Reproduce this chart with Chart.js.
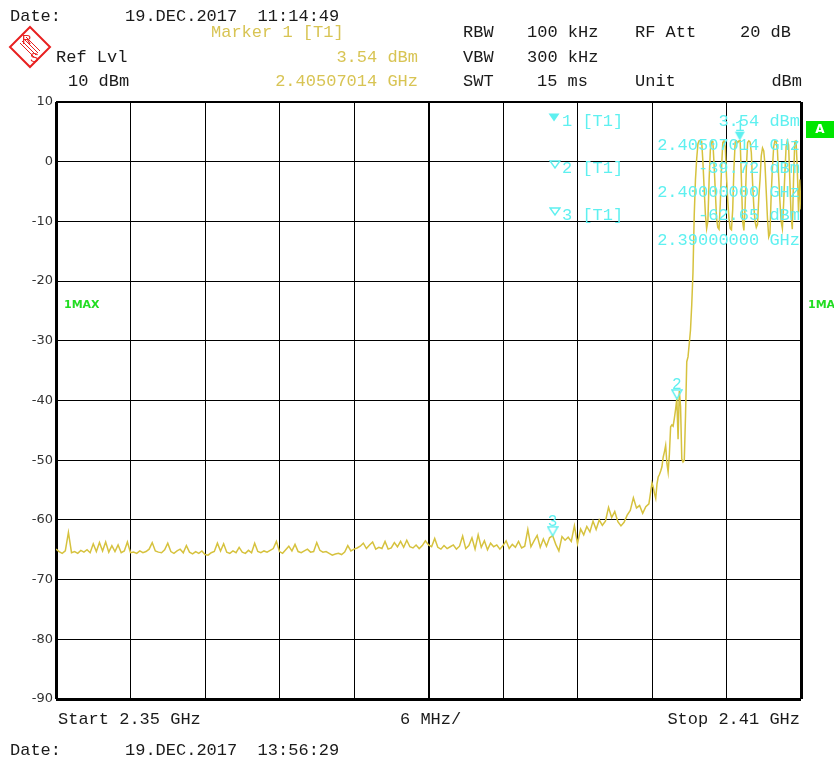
<!DOCTYPE html>
<html>
<head>
<meta charset="utf-8">
<script src="https://cdn.jsdelivr.net/npm/chart.js@4.4.1/dist/chart.umd.min.js"></script>
<style>
  body { margin: 0; background: #fff; overflow: hidden; }
  #wrap { position: relative; width: 834px; height: 760px; }
  #c { position: absolute; left: 0; top: 0; }
  .t { position: absolute; font-family: "Liberation Mono", "Courier New", monospace; font-size: 17px;
       line-height: 17px; white-space: pre; color: #1a1a1a; }
  .y { color: #d8c454; }
  .cy { color: #5ef0f0; }
  .grn { position: absolute; font-family: "DejaVu Sans", sans-serif; font-weight: bold; font-size: 11px;
         color: #22dd22; line-height: 11px; }
  #boxA { position: absolute; left: 806px; top: 121px; width: 28px; height: 17px; background: #00e600;
          color: #fff; font-family: "DejaVu Sans", sans-serif; font-weight: bold; font-size: 12px;
          line-height: 17px; text-align: center; }
</style>
</head>
<body>
<div id="wrap">
  <canvas id="c" width="834" height="760"></canvas>

  <!-- Kopf -->
  <div class="t" style="left:10px;top:8px">Date:</div>
  <div class="t" style="left:125px;top:8px">19.DEC.2017  11:14:49</div>
  <div class="t y" style="left:211px;top:24px">Marker 1 [T1]</div>
  <div class="t" style="left:56px;top:49px">Ref Lvl</div>
  <div class="t y" style="right:416px;top:49px">3.54 dBm</div>
  <div class="t" style="left:68px;top:73px">10 dBm</div>
  <div class="t y" style="right:416px;top:73px">2.40507014 GHz</div>
  <div class="t" style="left:463px;top:24px">RBW</div>
  <div class="t" style="left:527px;top:24px">100 kHz</div>
  <div class="t" style="left:635px;top:24px">RF Att</div>
  <div class="t" style="right:43px;top:24px">20 dB</div>
  <div class="t" style="left:463px;top:49px">VBW</div>
  <div class="t" style="left:527px;top:49px">300 kHz</div>
  <div class="t" style="left:463px;top:73px">SWT</div>
  <div class="t" style="left:537px;top:73px">15 ms</div>
  <div class="t" style="left:635px;top:73px">Unit</div>
  <div class="t" style="right:32px;top:73px">dBm</div>

  <svg style="position:absolute;left:8px;top:25px" width="44" height="44" viewBox="0 0 44 44">
    <polygon points="22,2 42,22 22,42 2,22" fill="none" stroke="#e82020" stroke-width="2"/>
    <line x1="12" y1="18" x2="26" y2="32" stroke="#e82020" stroke-width="1"/>
    <line x1="14" y1="16" x2="28" y2="30" stroke="#e82020" stroke-width="1"/>
    <line x1="16" y1="14" x2="30" y2="28" stroke="#e82020" stroke-width="1"/>
    <line x1="18" y1="12" x2="32" y2="26" stroke="#e82020" stroke-width="1"/>
    <text x="14" y="19" font-family="Liberation Sans, sans-serif" font-size="13" fill="#e82020">R</text>
    <text x="22" y="37" font-family="Liberation Sans, sans-serif" font-size="13" fill="#e82020">S</text>
  </svg>

  <!-- Markerliste -->
  <svg style="position:absolute;left:548px;top:113px" width="12" height="9"><polygon points="0.5,0.5 11.5,0.5 6,8.5" fill="#5ef0f0"/></svg>
  <svg style="position:absolute;left:549px;top:160px" width="12" height="9"><polygon points="1,1 11,1 6,8" fill="none" stroke="#5ef0f0" stroke-width="1.4"/></svg>
  <svg style="position:absolute;left:549px;top:207px" width="12" height="9"><polygon points="1,1 11,1 6,8" fill="none" stroke="#5ef0f0" stroke-width="1.4"/></svg>
  <div class="t cy" style="left:562px;top:113px">1 [T1]</div>
  <div class="t cy" style="right:34px;top:113px">3.54 dBm</div>
  <div class="t cy" style="right:34px;top:137px">2.40507014 GHz</div>
  <div class="t cy" style="left:562px;top:160px">2 [T1]</div>
  <div class="t cy" style="right:34px;top:160px">-39.72 dBm</div>
  <div class="t cy" style="right:34px;top:184px">2.40000000 GHz</div>
  <div class="t cy" style="left:562px;top:207px">3 [T1]</div>
  <div class="t cy" style="right:34px;top:207px">-62.65 dBm</div>
  <div class="t cy" style="right:34px;top:232px">2.39000000 GHz</div>

  <div id="boxA">A</div>
  <div class="grn" style="left:64px;top:299px">1MAX</div>
  <div class="grn" style="left:808px;top:299px">1MA</div>

  <!-- Fuss -->
  <div class="t" style="left:58px;top:711px">Start 2.35 GHz</div>
  <div class="t" style="left:400px;top:711px">6 MHz/</div>
  <div class="t" style="right:34px;top:711px">Stop 2.41 GHz</div>
  <div class="t" style="left:10px;top:742px">Date:</div>
  <div class="t" style="left:125px;top:742px">19.DEC.2017  13:56:29</div>
</div>

<script>
// Sweep 2.35 - 2.41 GHz, Werte in dBm
const startMHz = 2350;
const stopMHz = 2410;
const divMHz = 6;

// Rauschteil: 2350.00 ... 2397.75 MHz, Schritt 0.25 MHz
const noiseStartMHz = 2350;
const noiseStepMHz = 0.25;
const noiseLevels = [
  -64.9, -65.3, -65.6, -65.2, -62.1, -65.5, -65.3, -65.6, -65.1, -65.4, -65.0, -65.5,
  -64.0, -65.3, -63.8, -65.2, -63.7, -65.4, -64.3, -65.3, -64.2, -65.5, -65.2, -63.7,
  -65.5, -65.4, -65.6, -65.2, -65.5, -65.3, -64.9, -63.8, -65.2, -65.4, -65.5, -65.0,
  -63.9, -65.3, -65.6, -65.2, -64.9, -65.5, -64.3, -65.4, -65.7, -65.3, -65.6, -65.2,
  -65.8, -65.9, -65.5, -65.3, -63.9, -65.2, -64.0, -65.4, -65.6, -65.2, -65.5, -64.6,
  -65.4, -65.6, -65.1, -65.5, -63.9, -65.3, -65.5, -65.2, -65.4, -65.1, -64.8, -63.6,
  -65.3, -65.6, -65.0, -64.4, -65.2, -64.1, -65.3, -65.5, -65.2, -64.9, -65.4, -65.3,
  -63.8, -65.1, -65.4, -65.3, -65.6, -65.9, -65.7, -65.6, -65.8, -65.4, -64.3, -65.2,
  -64.9, -64.7, -64.4, -63.9, -64.8, -64.2, -63.7, -64.9, -64.6, -64.8, -63.6, -64.9,
  -64.7, -63.8, -64.5, -63.6, -64.6, -63.4, -64.5, -64.7, -64.2, -64.8, -64.3, -63.5,
  -64.2, -64.5, -63.1, -64.6, -64.9, -64.3, -64.8, -64.5, -64.2, -64.9, -64.4, -62.7,
  -64.8, -64.3, -63.0, -64.9, -62.5, -64.6, -63.5, -65.0, -63.9, -64.5, -64.2, -64.9,
  -64.3, -63.5, -64.8, -64.1, -64.6, -63.6, -64.7, -64.4, -61.6, -64.5, -63.5, -62.6,
  -64.6, -63.2, -64.4, -63.0, -62.65, -64.1, -65.2, -62.8, -63.4, -62.9, -63.6, -61.0,
  -64.0, -61.5, -62.5, -61.1, -62.0, -60.2, -61.6, -60.0, -60.9, -60.2, -57.9, -59.6,
  -58.6, -60.3, -61.0, -60.4, -59.2, -58.4, -56.3, -58.0, -57.6, -58.9, -57.8, -57.3
];

// Signalteil: 2398.0 ... 2410.0 MHz, Schritt 0.1 MHz
const bandStartMHz = 2398;
const bandStepMHz = 0.1;
const bandLevels = [
  -53.8, -54.5, -55.6, -56.4, -54.0, -52.8, -52.4, -51.8, -51.1, -49.5,
  -48.6, -47.5, -50.5, -52.0, -49.0, -44.4, -44.1, -44.3, -43.0, -41.5,
  -39.72, -46.5, -38.4, -41.0, -49.8, -50.3, -50.0, -42.5, -33.5, -32.7,
  -30.5, -28.2, -24.0, -18.6, -9.0, -3.0, 0.5, 3.0, 3.5, 3.5,
  3.4, 0.0, -4.5, -8.8, -11.2, -10.0, -3.0, 2.0, 3.5, 3.4,
  -0.5, -5.0, -9.5, -11.0, -11.3, -7.0, -1.0, 3.2, 3.5, 2.5,
  -2.5, -6.5, -9.5, -11.2, -11.4, -8.0, -1.0, 3.3, 3.5, 3.2,
  3.5, 3.54, -3.0, -10.0, -11.5, -7.5, -1.0, 3.2, 3.5, 3.3,
  1.5, -3.5, -7.5, -10.0, -11.0, -10.5, -6.0, -3.0, 1.0, 2.3,
  1.8, -0.5, -5.0, -9.5, -12.6, -12.0, -5.5, -1.0, 2.5, 3.5,
  3.4, 2.0, -2.5, -6.5, -10.0, -11.2, -7.0, -2.0, 2.5, 3.5,
  2.8, -3.0, -9.0, -11.3, -3.0, 3.4, 3.5, -1.0, -8.5, -3.0,
  -8.0
];

// Marker 1..3
const markerNames = ['1', '2', '3'];
const markerFreqsMHz = [2405.07014, 2400.0, 2390.0];
const markerLevels = [3.54, -39.72, -62.65];
const markerFilled = [true, false, false];

const traceColor = '#d6c23e';
const markerColor = '#5ef0f0';

// Messkurve zusammensetzen
const trace = [];
noiseLevels.forEach((v, i) => trace.push({ x: noiseStartMHz + i * noiseStepMHz, y: v }));
bandLevels.forEach((v, i) => trace.push({ x: bandStartMHz + i * bandStepMHz, y: v }));

// Markerdreieck: Spitze liegt in der Bildmitte
function makeTriangle(filled) {
  const cv = document.createElement('canvas');
  cv.width = 12;
  cv.height = 20;
  const g = cv.getContext('2d');
  g.beginPath();
  g.moveTo(1, 1);
  g.lineTo(11, 1);
  g.lineTo(6, 10);
  g.closePath();
  if (filled) {
    g.fillStyle = markerColor;
    g.fill();
  } else {
    g.strokeStyle = markerColor;
    g.lineWidth = 1.5;
    g.stroke();
  }
  return cv;
}

const markerLabels = {
  id: 'markerLabels',
  afterDatasetsDraw(chart) {
    const { ctx, scales } = chart;
    ctx.save();
    ctx.fillStyle = markerColor;
    ctx.font = '16px "Liberation Mono", monospace';
    ctx.textAlign = 'center';
    ctx.textBaseline = 'alphabetic';
    markerNames.forEach((n, i) => {
      const px = scales.x.getPixelForValue(markerFreqsMHz[i]);
      const py = scales.y.getPixelForValue(markerLevels[i]);
      ctx.fillText(n, px, py - 10);
    });
    ctx.restore();
  }
};

new Chart(document.getElementById('c'), {
  type: 'line',
  data: {
    datasets: [
      {
        label: 'Marker',
        data: markerFreqsMHz.map((f, i) => ({ x: f, y: markerLevels[i] })),
        showLine: false,
        pointStyle: markerFilled.map(f => makeTriangle(f)),
        order: 0
      },
      {
        label: '1MAX',
        data: trace,
        borderColor: traceColor,
        borderWidth: 1.5,
        pointRadius: 0,
        tension: 0,
        order: 1
      }
    ]
  },
  options: {
    responsive: false,
    animation: false,
    events: [],
    layout: { padding: { left: 0, right: 33, top: 102, bottom: 61 } },
    plugins: { legend: { display: false }, tooltip: { enabled: false } },
    scales: {
      x: {
        type: 'linear',
        min: startMHz,
        max: stopMHz,
        border: { display: false },
        ticks: { stepSize: divMHz, display: false },
        grid: {
          drawTicks: false,
          color: '#000',
          lineWidth: c => (c.tick.value === startMHz || c.tick.value === stopMHz) ? 3 : (c.tick.value === 2380 ? 2 : 1)
        }
      },
      y: {
        min: -90,
        max: 10,
        border: { display: false },
        afterFit: s => { s.width = 56; },
        ticks: {
          stepSize: 10,
          padding: 3,
          color: '#333',
          font: { family: 'DejaVu Sans', size: 13 },
          callback: v => String(v)
        },
        grid: {
          drawTicks: false,
          color: '#000',
          lineWidth: c => c.tick.value === -90 ? 3 : (c.tick.value === 10 ? 2 : 1)
        }
      }
    }
  },
  plugins: [markerLabels]
});
</script>
</body>
</html>
